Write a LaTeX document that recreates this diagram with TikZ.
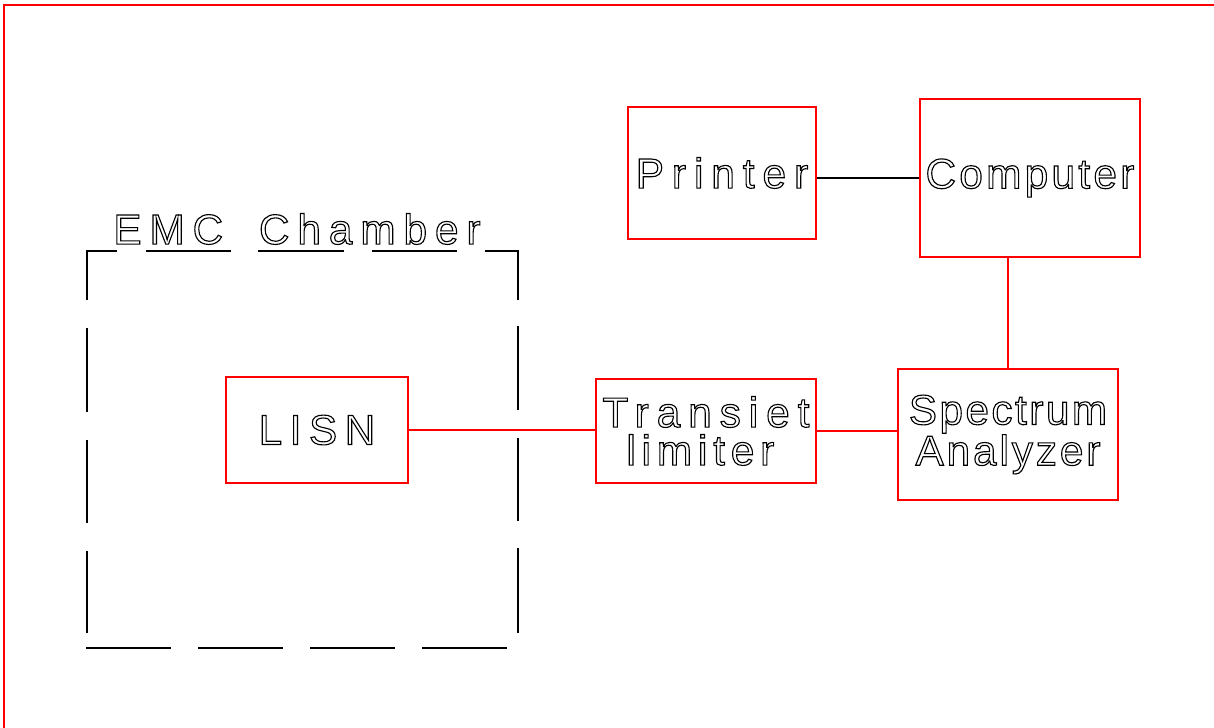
\documentclass[tikz,border=0pt]{standalone}
\usepackage{fontspec}
\setmainfont{Liberation Sans}
\usetikzlibrary{positioning}
% hollow (outlined) lettering, spaced out
\newcommand\hollow[2]{{\addfontfeature{LetterSpace=#1}\special{pdf:literal direct 0.8 w 1 Tr}#2\special{pdf:literal direct 0 Tr}}}
\tikzset{
  unit/.style={draw=red, line width=1.4pt, align=center, inner sep=0pt,
    font=\fontsize{30pt}{26pt}\selectfont},
  wire/.style={line width=1.4pt},
  wall/.style={line width=1.4pt, line cap=butt}
}
\begin{document}
\begin{tikzpicture}[x=0.025cm, y=-0.025cm]
\useasboundingbox (0,0) rectangle (1214,728);
\draw[red, line width=1.4pt] (4,728) -- (4,5) -- (1214,5);
% blocks
\node[unit, minimum width=4.7cm, minimum height=3.3cm] (printer) at (722,173) {\hollow{19}{Printer}};
\node[unit, minimum width=5.5cm, minimum height=3.95cm] (computer) at (1030,178) {\hollow{8}{Computer}};
\node[unit, minimum width=5.5cm, minimum height=3.275cm, font=\fontsize{30pt}{25pt}\selectfont] (analyzer) at (1008,434.5) {\hollow{6}{Spectrum}\\\hollow{7}{Analyzer}};
\node[unit, minimum width=5.5cm, minimum height=2.6cm, font=\fontsize{30pt}{27pt}\selectfont] (limiter) at (706,431) {\hollow{19}{Transiet}\\\hollow{14}{limiter}\kern8pt};
\node[unit, minimum width=4.55cm, minimum height=2.65cm] (lisn) at (317,430) {\hollow{18}{LISN}};
\node[font=\fontsize{30pt}{26pt}\selectfont, inner sep=0pt] (chamber) at (297,229) {\hollow{19}{EMC}\hspace{25.5pt}\hollow{19}{Chamber}};
% chamber walls
\draw[wall] (87,300) -- (87,251) -- (117,251);
\draw[wall] (518,300) -- (518,251) -- (485,251);
\foreach \a/\b in {146/231, 258/344, 372/457}
  \draw[wall] (\a,251) -- (\b,251);
\foreach \a/\b in {328/412, 440/523, 551/633}
  \draw[wall] (87,\a) -- (87,\b);
\foreach \a/\b in {326/410, 438/521, 548/633}
  \draw[wall] (518,\a) -- (518,\b);
\foreach \a in {86, 198, 310, 422}
  \draw[wall] (\a,648) -- ++(85,0);
% links
\draw[wire] (computer.west) -- (computer.west -| printer.east);
\draw[wire, red] (analyzer.north) -- (analyzer.north |- computer.south);
\draw[wire, red] (limiter.east) -- (limiter.east -| analyzer.west);
\draw[wire, red] (lisn.east) -- (lisn.east -| limiter.west);
\end{tikzpicture}
\end{document}
